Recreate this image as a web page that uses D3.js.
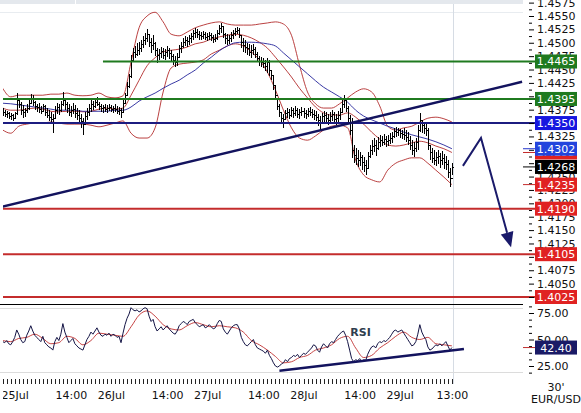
<!DOCTYPE html>
<html>
<head>
<meta charset="utf-8">
<script src="https://cdn.jsdelivr.net/npm/d3@7"></script>
<style>
html, body { margin: 0; padding: 0; background: #fff; }
svg { display: block; font-family: "DejaVu Sans", Verdana, sans-serif; }
</style>
</head>
<body>
<svg id="chart" width="581" height="413"></svg>
<script>
// EUR/USD, 30 minute bars from 24 Jul 21:00 to 29 Jul 13:00
const barStart = Date.UTC(2011, 6, 24, 21, 0);
const barMs = 30 * 60 * 1000;

const high = [
  1.4378,1.4374,1.4372,1.4371,1.4369,1.4367,1.4371,1.4406,1.4397,1.4389,
  1.4384,1.4378,1.4386,1.4393,1.4404,1.4402,1.4391,1.4386,1.4387,1.4382,
  1.4386,1.4384,1.4378,1.4374,1.4371,1.4367,1.4382,1.4387,1.4386,1.4391,
  1.4408,1.4397,1.4389,1.4386,1.4382,1.4387,1.4384,1.4378,1.4374,1.4367,
  1.4359,1.4371,1.4378,1.4386,1.4393,1.4391,1.4395,1.4399,1.4389,1.4386,
  1.4384,1.4386,1.4384,1.4386,1.4384,1.4382,1.4386,1.4382,1.4380,1.4378,
  1.4393,1.4406,1.4427,1.4442,1.4477,1.4490,1.4494,1.4500,1.4501,1.4505,
  1.4513,1.4518,1.4526,1.4516,1.4509,1.4514,1.4501,1.4490,1.4488,1.4492,
  1.4490,1.4488,1.4494,1.4490,1.4486,1.4479,1.4475,1.4481,1.4496,1.4501,
  1.4509,1.4513,1.4511,1.4514,1.4518,1.4524,1.4528,1.4526,1.4522,1.4520,
  1.4522,1.4520,1.4518,1.4520,1.4518,1.4514,1.4516,1.4524,1.4533,1.4537,
  1.4531,1.4518,1.4516,1.4514,1.4520,1.4524,1.4528,1.4529,1.4528,1.4513,
  1.4509,1.4505,1.4500,1.4498,1.4496,1.4498,1.4492,1.4483,1.4475,1.4473,
  1.4472,1.4468,1.4472,1.4468,1.4449,1.4440,1.4419,1.4397,1.4386,1.4371,
  1.4367,1.4374,1.4378,1.4376,1.4380,1.4378,1.4382,1.4378,1.4376,1.4380,
  1.4378,1.4374,1.4378,1.4380,1.4376,1.4374,1.4372,1.4367,1.4363,1.4369,
  1.4372,1.4371,1.4367,1.4371,1.4374,1.4371,1.4367,1.4372,1.4378,1.4393,
  1.4402,1.4397,1.4382,1.4365,1.4359,1.4309,1.4303,1.4300,1.4296,1.4290,
  1.4287,1.4281,1.4296,1.4309,1.4318,1.4322,1.4318,1.4324,1.4328,1.4326,
  1.4330,1.4326,1.4328,1.4331,1.4333,1.4341,1.4343,1.4341,1.4339,1.4337,
  1.4341,1.4337,1.4333,1.4326,1.4318,1.4315,1.4322,1.4346,1.4369,1.4356,
  1.4352,1.4348,1.4341,1.4309,1.4303,1.4300,1.4296,1.4300,1.4294,1.4298,
  1.4292,1.4288,1.4281,1.4266,1.4275
];
const low = [
  1.4363,1.4361,1.4359,1.4358,1.4356,1.4354,1.4358,1.4365,1.4378,1.4365,
  1.4359,1.4361,1.4369,1.4374,1.4386,1.4382,1.4374,1.4371,1.4369,1.4367,
  1.4371,1.4363,1.4359,1.4354,1.4350,1.4331,1.4359,1.4367,1.4365,1.4371,
  1.4382,1.4374,1.4369,1.4363,1.4361,1.4367,1.4359,1.4356,1.4352,1.4341,
  1.4328,1.4346,1.4356,1.4363,1.4371,1.4374,1.4378,1.4382,1.4374,1.4371,
  1.4369,1.4371,1.4369,1.4372,1.4371,1.4369,1.4371,1.4367,1.4365,1.4359,
  1.4371,1.4386,1.4401,1.4415,1.4434,1.4464,1.4472,1.4475,1.4477,1.4483,
  1.4490,1.4496,1.4501,1.4492,1.4481,1.4486,1.4475,1.4462,1.4468,1.4472,
  1.4470,1.4468,1.4473,1.4470,1.4466,1.4458,1.4455,1.4457,1.4473,1.4481,
  1.4490,1.4494,1.4492,1.4496,1.4500,1.4505,1.4509,1.4509,1.4505,1.4505,
  1.4507,1.4505,1.4503,1.4505,1.4503,1.4500,1.4501,1.4505,1.4514,1.4518,
  1.4509,1.4498,1.4496,1.4498,1.4501,1.4507,1.4513,1.4516,1.4509,1.4490,
  1.4483,1.4481,1.4477,1.4475,1.4472,1.4477,1.4472,1.4464,1.4457,1.4455,
  1.4453,1.4447,1.4443,1.4438,1.4430,1.4412,1.4393,1.4374,1.4361,1.4348,
  1.4341,1.4356,1.4359,1.4358,1.4361,1.4359,1.4363,1.4359,1.4358,1.4363,
  1.4359,1.4358,1.4361,1.4363,1.4359,1.4356,1.4354,1.4344,1.4337,1.4348,
  1.4352,1.4350,1.4346,1.4350,1.4354,1.4348,1.4346,1.4352,1.4356,1.4369,
  1.4378,1.4371,1.4352,1.4328,1.4285,1.4275,1.4272,1.4268,1.4270,1.4262,
  1.4259,1.4253,1.4266,1.4285,1.4290,1.4296,1.4288,1.4300,1.4305,1.4307,
  1.4309,1.4305,1.4307,1.4311,1.4313,1.4322,1.4324,1.4326,1.4322,1.4320,
  1.4318,1.4315,1.4309,1.4300,1.4290,1.4287,1.4296,1.4300,1.4333,1.4331,
  1.4330,1.4326,1.4300,1.4281,1.4275,1.4272,1.4270,1.4273,1.4266,1.4272,
  1.4264,1.4262,1.4247,1.4230,1.4253
];
const close = [
  1.4371,1.4367,1.4369,1.4363,1.4365,1.4359,1.4369,1.4393,1.4386,1.4374,
  1.4371,1.4374,1.4378,1.4387,1.4397,1.4389,1.4382,1.4380,1.4376,1.4372,
  1.4382,1.4371,1.4365,1.4361,1.4358,1.4359,1.4374,1.4380,1.4374,1.4386,
  1.4393,1.4386,1.4378,1.4371,1.4374,1.4376,1.4369,1.4365,1.4359,1.4354,
  1.4348,1.4363,1.4371,1.4378,1.4386,1.4382,1.4389,1.4386,1.4382,1.4378,
  1.4380,1.4376,1.4378,1.4380,1.4376,1.4378,1.4376,1.4372,1.4374,1.4371,
  1.4387,1.4402,1.4419,1.4438,1.4468,1.4483,1.4479,1.4486,1.4490,1.4498,
  1.4505,1.4509,1.4516,1.4501,1.4496,1.4500,1.4486,1.4477,1.4481,1.4485,
  1.4477,1.4483,1.4486,1.4481,1.4475,1.4468,1.4464,1.4473,1.4490,1.4494,
  1.4501,1.4505,1.4503,1.4509,1.4513,1.4518,1.4520,1.4516,1.4514,1.4513,
  1.4516,1.4511,1.4513,1.4514,1.4511,1.4507,1.4509,1.4518,1.4528,1.4531,
  1.4516,1.4509,1.4505,1.4509,1.4514,1.4518,1.4522,1.4524,1.4514,1.4501,
  1.4496,1.4492,1.4490,1.4483,1.4486,1.4488,1.4479,1.4472,1.4466,1.4464,
  1.4462,1.4457,1.4464,1.4449,1.4440,1.4421,1.4402,1.4382,1.4371,1.4359,
  1.4358,1.4369,1.4371,1.4365,1.4374,1.4369,1.4374,1.4367,1.4371,1.4372,
  1.4369,1.4367,1.4372,1.4371,1.4367,1.4365,1.4361,1.4356,1.4352,1.4363,
  1.4365,1.4359,1.4356,1.4363,1.4367,1.4358,1.4359,1.4365,1.4371,1.4386,
  1.4393,1.4378,1.4359,1.4337,1.4300,1.4290,1.4285,1.4281,1.4287,1.4277,
  1.4272,1.4266,1.4288,1.4300,1.4307,1.4309,1.4303,1.4315,1.4318,1.4315,
  1.4320,1.4316,1.4318,1.4322,1.4326,1.4335,1.4333,1.4337,1.4331,1.4330,
  1.4328,1.4324,1.4318,1.4309,1.4300,1.4303,1.4315,1.4337,1.4356,1.4346,
  1.4341,1.4337,1.4309,1.4296,1.4285,1.4281,1.4287,1.4288,1.4281,1.4285,
  1.4277,1.4273,1.4259,1.4247,1.4268
];

// indicators, one value for every 4th bar
const sampleStep = 4;
const bbUpper = [
  1.4415,1.4399,1.4402,1.4402,1.4402,1.4402,1.4404,1.4404,1.4406,1.4402,
  1.4401,1.4402,1.4406,1.4399,1.4397,1.4401,1.4464,1.4528,1.4550,1.4557,
  1.4539,1.4516,1.4513,1.4520,1.4528,1.4533,1.4537,1.4539,1.4535,1.4533,
  1.4533,1.4533,1.4535,1.4537,1.4539,1.4535,1.4514,1.4458,1.4408,1.4386,
  1.4378,1.4378,1.4386,1.4397,1.4408,1.4414,1.4408,1.4382,1.4344,1.4337,
  1.4341,1.4344,1.4352,1.4359,1.4361,1.4358,1.4352
];
const bbMiddle = [
  1.4378,1.4374,1.4374,1.4376,1.4378,1.4376,1.4372,1.4371,1.4372,1.4372,
  1.4371,1.4372,1.4376,1.4378,1.4376,1.4378,1.4402,1.4430,1.4457,1.4472,
  1.4483,1.4486,1.4488,1.4492,1.4498,1.4501,1.4507,1.4511,1.4514,1.4516,
  1.4514,1.4509,1.4501,1.4490,1.4473,1.4455,1.4436,1.4415,1.4397,1.4380,
  1.4369,1.4365,1.4365,1.4369,1.4361,1.4348,1.4333,1.4320,1.4309,1.4307,
  1.4309,1.4313,1.4316,1.4313,1.4307,1.4302,1.4295
];
const bbLower = [
  1.4337,1.4331,1.4344,1.4348,1.4350,1.4350,1.4352,1.4350,1.4348,1.4348,
  1.4348,1.4346,1.4343,1.4346,1.4350,1.4354,1.4331,1.4322,1.4322,1.4341,
  1.4408,1.4453,1.4460,1.4462,1.4464,1.4468,1.4479,1.4486,1.4494,1.4498,
  1.4494,1.4483,1.4468,1.4445,1.4412,1.4374,1.4341,1.4322,1.4318,1.4326,
  1.4337,1.4344,1.4346,1.4341,1.4281,1.4253,1.4244,1.4240,1.4262,1.4275,
  1.4281,1.4285,1.4285,1.4275,1.4262,1.4249,1.4235
];
const maLong = [
  1.4387,1.4386,1.4384,1.4382,1.4380,1.4378,1.4376,1.4374,1.4374,1.4374,
  1.4372,1.4372,1.4372,1.4372,1.4374,1.4374,1.4380,1.4391,1.4399,1.4406,
  1.4415,1.4423,1.4430,1.4440,1.4449,1.4462,1.4473,1.4485,1.4494,1.4500,
  1.4501,1.4501,1.4500,1.4498,1.4494,1.4481,1.4468,1.4455,1.4442,1.4429,
  1.4417,1.4408,1.4399,1.4389,1.4374,1.4363,1.4356,1.4350,1.4344,1.4339,
  1.4333,1.4328,1.4324,1.4320,1.4315,1.4309,1.4302
];

const rsi = [
  48,47,49,46,45,48,52,59,55,50,47,48,54,58,63,58,54,52,50,48,
  53,47,45,43,42,40,48,52,49,55,65,57,52,47,49,51,46,44,42,41,
  40,45,50,53,57,55,58,61,57,54,53,55,54,56,53,55,54,52,53,47,
  56,64,70,74,80,78,77,78,76,77,79,80,79,72,67,69,62,58,60,62,
  59,61,63,60,58,56,55,58,63,65,67,66,64,67,68,69,66,64,62,63,
  64,61,62,64,62,60,61,65,68,67,60,57,55,58,61,63,64,64,60,52,
  48,45,44,46,48,50,45,42,41,40,39,37,40,35,32,28,25,24,25,27,
  28,31,29,32,33,35,34,36,33,35,37,36,38,40,42,45,44,40,38,43,
  46,44,42,46,48,47,50,53,55,57,58,54,48,40,32,29,31,30,32,29,
  31,30,36,40,43,44,42,46,48,47,49,48,50,52,55,58,59,57,58,59,
  56,53,50,47,44,45,48,55,64,57,53,50,43,40,41,43,45,44,46,44,
  46,48,44,40,42.4
];
const rsiSignal = [
  49,48,51,52,55,51,46,47,53,51,45,49,56,55,54,53,62,73,77,72,
  64,60,59,63,66,64,62,63,62,61,57,49,45,40,34,28,29,33,35,40,
  42,45,51,53,42,33,35,42,47,53,57,52,50,52,46,45,44
];

// horizontal levels
const resistance = [1.4465, 1.4395];
const pivot = [1.4350];
const support = [1.4190, 1.4105, 1.4025];
const levelStartBar = { 1.4465: 50 };

// trend lines and forecast (bar index, value)
const trendBars = [0, 259];
const trendPrices = [1.4194, 1.4427];
const rsiTrendBars = [138, 230];
const rsiTrendValues = [20.5, 41];
const forecastBars = [229.5, 238.5, 253.5];
const forecastPrices = [1.4270, 1.4322, 1.4118];

const dateLabels = [
  [Date.UTC(2011, 6, 25, 0), "25Jul"], [Date.UTC(2011, 6, 25, 14), "14:00"],
  [Date.UTC(2011, 6, 26, 0), "26Jul"], [Date.UTC(2011, 6, 26, 14), "14:00"],
  [Date.UTC(2011, 6, 27, 0), "27Jul"], [Date.UTC(2011, 6, 27, 14), "14:00"],
  [Date.UTC(2011, 6, 28, 0), "28Jul"], [Date.UTC(2011, 6, 28, 14), "14:00"],
  [Date.UTC(2011, 6, 29, 0), "29Jul"], [Date.UTC(2011, 6, 29, 13), "13:00"]
];

const svg = d3.select("#chart");
const barTime = i => new Date(barStart + i * barMs);
const lastBar = close.length - 1;

const x = d3.scaleUtc().domain([barTime(0), barTime(lastBar)]).range([2.7, 451.9]);
const xb = i => x(barTime(i));
const y = d3.scaleLinear().domain([1.4025, 1.4550]).range([297, 16]);
const yr = d3.scaleLinear().domain([25, 75]).range([366, 313]);

const plotRight = 523;
const defs = svg.append("defs");
defs.append("clipPath").attr("id", "clipMain")
  .append("rect").attr("x", 3).attr("y", 5).attr("width", 532).attr("height", 299);
defs.append("clipPath").attr("id", "clipRsi")
  .append("rect").attr("x", 3).attr("y", 305).attr("width", 532).attr("height", 72);
defs.append("clipPath").attr("id", "clipTime")
  .append("rect").attr("x", 3).attr("y", -10).attr("width", 520).attr("height", 30);

// frame pieces
svg.append("rect").attr("x", 0).attr("y", 0).attr("width", plotRight).attr("height", 4).attr("fill", "#e4e8ed");
svg.append("line").attr("x1", 75.5).attr("x2", 75.5).attr("y1", 0).attr("y2", 4).attr("stroke", "#fff");
svg.append("line").attr("x1", 0).attr("x2", plotRight).attr("y1", 12.5).attr("y2", 12.5).attr("stroke", "#e8ecf0");
const nowX = Math.round(x(new Date(barTime(lastBar).getTime() + barMs / 2))) + 0.5;
svg.append("line").attr("x1", nowX).attr("x2", nowX).attr("y1", 4).attr("y2", 384).attr("stroke", "#d6dce4");
svg.append("line").attr("x1", 0).attr("x2", plotRight).attr("y1", 308.5).attr("y2", 308.5).attr("stroke", "#dcdcdc");
svg.append("line").attr("x1", 0).attr("x2", plotRight).attr("y1", 372.5).attr("y2", 372.5).attr("stroke", "#dcdcdc");

const main = svg.append("g").attr("clip-path", "url(#clipMain)");

// bollinger bands and long average
const sampled = arr => arr.map((v, k) => [k * sampleStep, v]);
const priceLine = d3.line().x(d => xb(d[0])).y(d => y(d[1])).curve(d3.curveMonotoneX);
[bbUpper, bbMiddle, bbLower].forEach(arr => {
  main.append("path").attr("d", priceLine(sampled(arr)))
    .attr("fill", "none").attr("stroke", "#b22b2b").attr("stroke-width", 0.9);
});
main.append("path").attr("d", priceLine(sampled(maLong)))
  .attr("fill", "none").attr("stroke", "#22229a").attr("stroke-width", 0.9);

// price bars
const bars = main.append("g").attr("stroke", "#000").attr("stroke-width", 1).attr("shape-rendering", "crispEdges");
close.forEach((c, i) => {
  const bx = Math.round(xb(i)) + 0.5;
  const open = i > 0 ? close[i - 1] : c;
  bars.append("path").attr("d",
    `M${bx},${y(high[i])}V${y(low[i])}` +
    `M${bx - 1.5},${Math.round(y(open)) + 0.5}H${bx}` +
    `M${bx},${Math.round(y(c)) + 0.5}H${bx + 1.5}`);
});

// horizontal levels
const drawLevel = (v, color) => {
  const start = levelStartBar[v] !== undefined ? xb(levelStartBar[v]) : 0;
  main.append("line").attr("x1", start).attr("x2", 535)
    .attr("y1", y(v)).attr("y2", y(v))
    .attr("stroke", color).attr("stroke-width", 2);
};
resistance.forEach(v => drawLevel(v, "#1f7a1f"));
pivot.forEach(v => drawLevel(v, "#1c1c80"));
support.forEach(v => drawLevel(v, "#c42c2c"));

// trend line
main.append("line")
  .attr("x1", xb(trendBars[0])).attr("y1", y(trendPrices[0]))
  .attr("x2", xb(trendBars[1])).attr("y2", y(trendPrices[1]))
  .attr("stroke", "#13135e").attr("stroke-width", 2.5);

// forecast arrow
const fPts = forecastBars.map((b, k) => [xb(b), y(forecastPrices[k])]);
const tip = fPts[2], prev = fPts[1];
const ang = Math.atan2(tip[1] - prev[1], tip[0] - prev[0]);
const headLen = 15, headHalf = 6.5;
const base = [tip[0] - headLen * Math.cos(ang), tip[1] - headLen * Math.sin(ang)];
svg.append("path")
  .attr("d", d3.line()([fPts[0], fPts[1], base]))
  .attr("fill", "none").attr("stroke", "#1a1a6a").attr("stroke-width", 2);
svg.append("path")
  .attr("d", d3.line()([
    tip,
    [base[0] + headHalf * Math.sin(ang), base[1] - headHalf * Math.cos(ang)],
    [base[0] - headHalf * Math.sin(ang), base[1] + headHalf * Math.cos(ang)]
  ]) + "Z")
  .attr("fill", "#1a1a6a");

// panel separator
svg.append("line").attr("x1", 0).attr("x2", plotRight).attr("y1", 304.5).attr("y2", 304.5).attr("stroke", "#000");

// last values shown in boxes on the axis
const maLast = maLong[maLong.length - 1];
const midLast = bbMiddle[bbMiddle.length - 1];
const lowLast = bbLower[bbLower.length - 1];
const pxLast = close[lastBar];
const rsiLast = rsi[lastBar];
const boxedPrices = [...resistance, ...pivot, ...support, maLast, midLast, lowLast, pxLast];

// right price axis: labels fully under a box are left out
const majors = d3.range(0, 23).map(k => +(1.4025 + k * 0.0025).toFixed(4))
  .filter(v => boxedPrices.every(b => Math.abs(y(v) - y(b)) >= 4 || v === b && false));
const allMajors = d3.range(0, 23).map(k => +(1.4025 + k * 0.0025).toFixed(4));
const minors = d3.range(0, 45).map(k => +(1.4025 + k * 0.00125).toFixed(5)).filter(v => !allMajors.includes(v));
svg.append("g").attr("transform", "translate(529,0)")
  .call(d3.axisRight(y).tickValues(allMajors).tickSize(5).tickFormat(""))
  .call(g => g.select(".domain").remove());
const yAxis = svg.append("g").attr("transform", "translate(529,0)")
  .call(d3.axisRight(y).tickValues(majors).tickSize(0).tickPadding(8).tickFormat(d3.format(".4f")));
svg.append("g").attr("transform", "translate(529,0)")
  .call(d3.axisRight(y).tickValues(minors).tickSize(3).tickFormat(""))
  .call(g => g.select(".domain").remove());
yAxis.select(".domain").remove();
yAxis.selectAll("text").attr("font-size", 11).attr("fill", "#111").attr("font-family", "DejaVu Sans");

const boxLabel = (yy, v, fill, digits) => {
  svg.append("rect").attr("x", 535).attr("y", yy - 7).attr("width", 42).attr("height", 14).attr("fill", fill);
  svg.append("text").attr("x", 556).attr("y", yy).attr("dy", "0.36em")
    .attr("text-anchor", "middle").attr("font-size", 11).attr("fill", "#fff")
    .text(v.toFixed(digits));
};
const tickMark = (yy, color) => {
  svg.append("line").attr("x1", 523).attr("x2", 535).attr("y1", yy).attr("y2", yy)
    .attr("stroke", color).attr("stroke-width", 1);
};
resistance.forEach(v => boxLabel(y(v), v, "#1f7a1f", 4));
pivot.forEach(v => boxLabel(y(v), v, "#1717e0", 4));
support.forEach(v => boxLabel(y(v), v, "#e02222", 4));

tickMark(y(midLast), "#c42c2c");
tickMark(y(maLast), "#2233cc");
tickMark(y(pxLast), "#000");
tickMark(y(lowLast), "#c42c2c");
boxLabel(y(midLast), midLast, "#e02222", 4);
boxLabel(y(maLast), maLast, "#2344dd", 4);
boxLabel(y(pxLast), pxLast, "#000", 4);
boxLabel(y(lowLast), lowLast, "#e02222", 4);

// RSI panel
const rsiG = svg.append("g").attr("clip-path", "url(#clipRsi)");
rsiG.append("path")
  .attr("d", d3.line().x(d => xb(d[0])).y(d => yr(d[1])).curve(d3.curveMonotoneX)(sampled(rsiSignal)))
  .attr("fill", "none").attr("stroke", "#c03030").attr("stroke-width", 0.9);
rsiG.append("path")
  .attr("d", d3.line().x((d, i) => xb(i)).y(d => yr(d))(rsi))
  .attr("fill", "none").attr("stroke", "#141445").attr("stroke-width", 1);
rsiG.append("line")
  .attr("x1", xb(rsiTrendBars[0])).attr("y1", yr(rsiTrendValues[0]))
  .attr("x2", xb(rsiTrendBars[1])).attr("y2", yr(rsiTrendValues[1]))
  .attr("stroke", "#13135e").attr("stroke-width", 2.5);
svg.append("text").attr("x", 360.5).attr("y", 336).attr("text-anchor", "middle")
  .attr("font-size", 11).attr("font-weight", "bold").attr("fill", "#2f3e4e").text("RSI");

const rAxis = svg.append("g").attr("transform", "translate(529,0)")
  .call(d3.axisRight(yr).tickValues([25, 50, 75]).tickSize(5).tickPadding(3).tickFormat(d3.format(".2f")));
rAxis.select(".domain").remove();
rAxis.selectAll("text").attr("font-size", 11).attr("fill", "#111").attr("font-family", "DejaVu Sans");
svg.append("g").attr("transform", "translate(529,0)")
  .call(d3.axisRight(yr).tickValues(d3.range(18.75, 82, 6.25).filter(v => v % 25 !== 0)).tickSize(3).tickFormat(""))
  .call(g => g.select(".domain").remove());
tickMark(yr(rsiLast), "#c03030");
boxLabel(yr(rsiLast), rsiLast, "#1a1a66", 2);

// time axis
const hours = d3.utcHour.range(barTime(0), new Date(barTime(lastBar).getTime() + 1));
const tAxis = svg.append("g").attr("transform", "translate(0,379)")
  .call(d3.axisBottom(x).tickValues(hours).tickSize(5).tickFormat(""));
tAxis.select(".domain").remove();
tAxis.selectAll("line").attr("stroke", "#222").attr("shape-rendering", "crispEdges");

const labelMap = new Map(dateLabels.map(d => [d[0], d[1]]));
const lAxis = svg.append("g").attr("transform", "translate(0,391)")
  .call(d3.axisBottom(x).tickValues(dateLabels.map(d => new Date(d[0])))
    .tickSize(0).tickPadding(0).tickFormat(d => labelMap.get(d.getTime())));
lAxis.select(".domain").remove();
lAxis.selectAll("text").attr("font-size", 11).attr("fill", "#111").attr("font-family", "DejaVu Sans");
lAxis.attr("clip-path", "url(#clipTime)");

svg.append("text").attr("x", 556).attr("y", 391).attr("text-anchor", "middle")
  .attr("font-size", 11).attr("fill", "#111").text("30'");
svg.append("text").attr("x", 556).attr("y", 403).attr("text-anchor", "middle")
  .attr("font-size", 11).attr("fill", "#111").text("EUR/USD");
</script>
</body>
</html>
